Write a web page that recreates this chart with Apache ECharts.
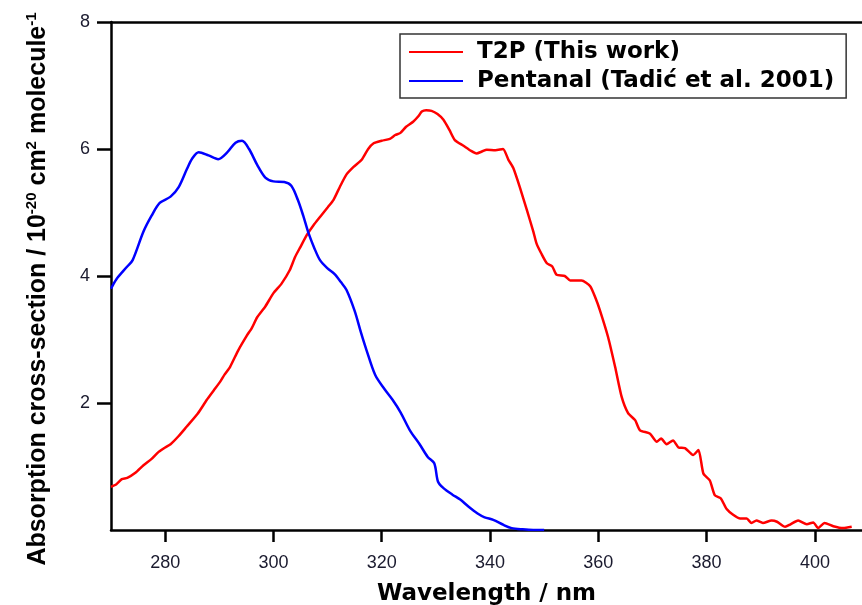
<!DOCTYPE html>
<html>
<head>
<meta charset="utf-8">
<script src="https://cdn.jsdelivr.net/npm/echarts@6/dist/echarts.min.js"></script>
<style>
  html, body { margin: 0; padding: 0; background: #fff; }
  #chart { width: 862px; height: 605px; }
</style>
</head>
<body>
<div id="chart"></div>
<script>
// wavelength (nm) / cross-section (1e-20 cm2 molecule-1)
var t2pX = [270, 271, 272, 273, 274.5, 276, 277.5, 278.8, 280, 281, 282.5, 284, 286, 287.7, 289, 290.2, 291, 292, 293.5, 295, 296, 297, 298.5, 300,
  301.5, 303, 304, 305, 306.2, 307.4, 308.6, 310, 311.1, 312.3, 313.5, 314.8, 316.3, 317.5, 318.5, 320, 321.5, 322.5, 323.4, 324.5, 325.8, 326.8,
  327.4, 328.2, 329.2, 330.3, 331.4, 332.5, 333.5, 335.1, 336.5, 337.5, 338.5, 339.4, 341, 342.4, 343.4, 344.3, 345.5, 346.8, 348, 348.6, 349.5,
  350.5, 351.5, 352.3, 353.8, 354.8, 356.9, 358.5, 359.5, 360.3, 361.8, 363.1, 364.3, 365.5, 366.8, 367.7, 369.5, 370.8, 371.6, 372.6, 373.8,
  374.8, 376, 377.5, 378.5, 379.4, 380.6, 381.5, 382.6, 383.7, 384.9, 386.2, 387.4, 388.3, 389.2, 390.4, 392, 393, 394.5, 395.5, 396.9, 398.5,
  399.7, 400.6, 401.8, 403.4, 405.2, 406.8];
var t2pY = [0.68, 0.72, 0.80, 0.82, 0.90, 1.02, 1.12, 1.23, 1.30, 1.35, 1.48, 1.63, 1.83, 2.05, 2.20, 2.34, 2.45, 2.57, 2.83, 3.05, 3.18, 3.35, 3.52, 3.73,
  3.88, 4.09, 4.30, 4.46, 4.65, 4.80, 4.93, 5.08, 5.20, 5.41, 5.60, 5.72, 5.83, 6.00, 6.09, 6.13, 6.16, 6.22, 6.25, 6.35, 6.43, 6.52,
  6.59, 6.61, 6.60, 6.55, 6.46, 6.30, 6.14, 6.05, 5.97, 5.93, 5.96, 5.99, 5.98, 6.00, 5.83, 5.70, 5.40, 5.04, 4.70, 4.51, 4.35,
  4.20, 4.15, 4.02, 4.00, 3.93, 3.93, 3.84, 3.65, 3.46, 3.04, 2.57, 2.10, 1.84, 1.73, 1.57, 1.52, 1.39, 1.44, 1.35, 1.41,
  1.30, 1.29, 1.18, 1.26, 0.89, 0.78, 0.55, 0.50, 0.33, 0.24, 0.18, 0.18, 0.11, 0.15, 0.11, 0.15, 0.13, 0.05, 0.09, 0.15, 0.09,
  0.12, 0.03, 0.11, 0.06, 0.03, 0.05];

var pentanalX = [270, 271, 273, 274, 276, 277.5, 279, 281, 282.5, 284, 285, 286.2, 288, 289.8, 291.5, 293, 294.2, 295.5, 297, 298.5, 300, 302,
  303.3, 304.5, 305.5, 306.5, 307.5, 308.6, 310, 311.3, 312.5, 313.5, 315, 316.2, 317.2, 318.8, 320.5, 322, 323.5, 325.2, 327, 328.5, 329.7,
  330.4, 331.4, 333, 334.5, 336, 337.7, 339, 340.6, 342.5, 344, 346, 348, 350];
var pentanalY = [3.80, 3.95, 4.15, 4.25, 4.70, 4.95, 5.15, 5.25, 5.40, 5.68, 5.85, 5.95, 5.90, 5.84, 5.95, 6.10, 6.13, 6.00, 5.75, 5.55, 5.49, 5.48,
  5.42, 5.20, 4.95, 4.67, 4.45, 4.25, 4.12, 4.03, 3.90, 3.78, 3.45, 3.10, 2.83, 2.44, 2.22, 2.05, 1.85, 1.57, 1.35, 1.15, 1.05,
  0.76, 0.66, 0.56, 0.48, 0.37, 0.26, 0.20, 0.16, 0.08, 0.03, 0.01, 0.0, 0.0];

var xTicks = [280, 300, 320, 340, 360, 380, 400];
var yTicks = [2, 4, 6, 8];

function zip(xs, ys) {
  return xs.map(function (x, i) { return [x, ys[i]]; });
}

var myChart = echarts.init(document.getElementById('chart'));

var labelStyle = { fontFamily: 'Liberation Sans', fontSize: 18, color: '#1a1a2e' };
var boldFont = 'DejaVu Sans';

myChart.setOption({
  animation: false,
  grid: { left: 111, top: 22, right: 0, bottom: 75, outerBoundsMode: 'none', containLabel: false },
  legend: {
    left: 400,
    top: 34,
    orient: 'vertical',
    padding: [6, 12, 5, 9],
    itemGap: 5,
    itemWidth: 54,
    itemHeight: 2,
    icon: 'rect',
    borderColor: '#333',
    borderWidth: 1.5,
    textStyle: { fontFamily: boldFont, fontSize: 23, fontWeight: 'bold', color: '#000', lineHeight: 24, padding: [0, 0, 0, 9] },
    data: ['T2P (This work)', 'Pentanal (Tadić et al. 2001)']
  },
  xAxis: [{
    type: 'value',
    min: 270,
    max: 408.7,
    name: 'Wavelength / nm',
    nameLocation: 'middle',
    nameGap: 53,
    nameTextStyle: { fontFamily: boldFont, fontSize: 23, fontWeight: 'bold', color: '#000' },
    splitLine: { show: false },
    axisLine: { lineStyle: { color: '#000', width: 2.5 } },
    axisTick: { customValues: xTicks, length: 12, lineStyle: { color: '#000', width: 2.5 } },
    axisLabel: Object.assign({ customValues: xTicks, margin: 24 }, labelStyle)
  }, {
    type: 'value',
    position: 'top',
    min: 270,
    max: 408.7,
    splitLine: { show: false },
    axisLine: { lineStyle: { color: '#000', width: 2.5 } },
    axisTick: { show: false },
    axisLabel: { show: false }
  }],
  yAxis: {
    type: 'value',
    min: 0,
    max: 8,
    name: 'Absorption cross-section / 10{sup|-20} cm{sup|2} molecule{sup|-1}',
    nameLocation: 'middle',
    nameRotate: 90,
    nameGap: 58,
    nameTextStyle: {
      fontFamily: 'Liberation Sans', fontSize: 25, fontWeight: 'bold', color: '#000',
      padding: [0, 26, 0, 0],
      rich: {
        sup: { fontFamily: 'Liberation Sans', fontSize: 15, fontWeight: 'bold', color: '#000', verticalAlign: 'top', padding: [0, 0, 14, 0] }
      }
    },
    splitLine: { show: false },
    axisLine: { lineStyle: { color: '#000', width: 2.5 } },
    axisTick: { customValues: yTicks, length: 14, lineStyle: { color: '#000', width: 2.5 } },
    axisLabel: Object.assign({ customValues: yTicks, margin: 21 }, labelStyle)
  },
  series: [{
    name: 'T2P (This work)',
    type: 'line',
    data: zip(t2pX, t2pY),
    showSymbol: false,
    smooth: 0.2,
    color: '#ff0000',
    lineStyle: { color: '#ff0000', width: 2.5 }
  }, {
    name: 'Pentanal (Tadić et al. 2001)',
    type: 'line',
    data: zip(pentanalX, pentanalY),
    showSymbol: false,
    smooth: 0.3,
    color: '#0000ff',
    lineStyle: { color: '#0000ff', width: 2.5 }
  }]
});
</script>
</body>
</html>
